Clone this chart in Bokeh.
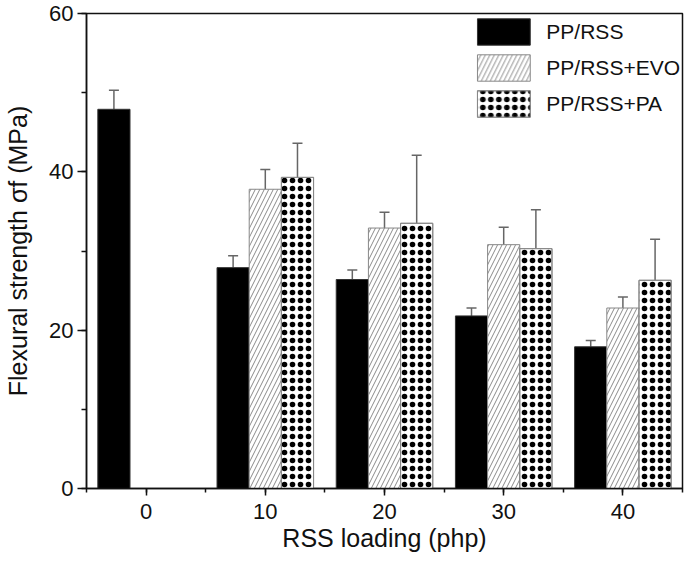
from bokeh.plotting import figure
from bokeh.models import (ColumnDataSource, Whisker, Legend, LegendItem,
                          SingleIntervalTicker, TeeHead, Range1d)
from bokeh.transform import dodge
from bokeh.embed import file_html
from bokeh.resources import INLINE

# ---- data ----
loading = [0, 10, 20, 30, 40]
pp_rss = [47.9, 27.9, 26.4, 21.8, 17.9]
pp_rss_err = [2.4, 1.5, 1.2, 1.0, 0.8]

loading_mod = [10, 20, 30, 40]
pp_rss_evo = [37.8, 32.9, 30.8, 22.8]
pp_rss_evo_err = [2.5, 2.0, 2.2, 1.4]
pp_rss_pa = [39.3, 33.5, 30.3, 26.3]
pp_rss_pa_err = [4.3, 8.6, 4.9, 5.2]

series_names = ["PP/RSS", "PP/RSS+EVO", "PP/RSS+PA"]

FONT = "Liberation Sans"
BAR_W = 2.7
OFF = 2.7

p = figure(width=684, height=563, output_backend="svg", toolbar_location=None,
           x_range=Range1d(-5, 45), y_range=Range1d(0, 60),
           min_border_left=86, min_border_right=2, min_border_top=13,
           min_border_bottom=75)
p.background_fill_color = "white"
p.border_fill_color = "white"
p.outline_line_color = "#111111"
p.outline_line_width = 1.5
p.xgrid.visible = False
p.ygrid.visible = False

src_a = ColumnDataSource(dict(x=loading, y=pp_rss,
                              upper=[v + e for v, e in zip(pp_rss, pp_rss_err)],
                              lower=pp_rss))
src_b = ColumnDataSource(dict(x=loading_mod, y=pp_rss_evo,
                              upper=[v + e for v, e in zip(pp_rss_evo, pp_rss_evo_err)],
                              lower=[v - e for v, e in zip(pp_rss_evo, pp_rss_evo_err)]))
src_c = ColumnDataSource(dict(x=loading_mod, y=pp_rss_pa,
                              upper=[v + e for v, e in zip(pp_rss_pa, pp_rss_pa_err)],
                              lower=[v - e for v, e in zip(pp_rss_pa, pp_rss_pa_err)]))

r_a = p.vbar(x=dodge("x", -OFF, range=p.x_range), top="y", width=BAR_W, source=src_a,
             fill_color="black", line_color="#333333", line_width=1)
r_b = p.vbar(x=dodge("x", 0, range=p.x_range), top="y", width=BAR_W, source=src_b,
             fill_color="white", line_color="#888888", line_width=1,
             hatch_pattern="/", hatch_color="#8a8a8a", hatch_scale=9, hatch_weight=1)
# dotted bars: ring pattern + dot pattern on the same grid give solid black dots
r_c = p.vbar(x=dodge("x", OFF, range=p.x_range), top="y", width=BAR_W, source=src_c,
             fill_color="white", line_color="#888888", line_width=1,
             hatch_pattern="o", hatch_color="black", hatch_scale=8, hatch_weight=1.6)
r_c2 = p.vbar(x=dodge("x", OFF, range=p.x_range), top="y", width=BAR_W, source=src_c,
              fill_alpha=0, line_color="#888888", line_width=1,
              hatch_pattern=".", hatch_color="black", hatch_scale=8)

ERR_COL = "#666666"
for src, off, lower_cap in [(src_a, -OFF, False), (src_b, 0, True), (src_c, OFF, True)]:
    w = Whisker(base=dodge("x", off, range=p.x_range), upper="upper", lower="lower",
                source=src, line_color=ERR_COL, line_width=1.5,
                upper_head=TeeHead(size=10, line_color=ERR_COL, line_width=1.5),
                lower_head=TeeHead(size=10, line_color=ERR_COL, line_width=1.5) if lower_cap else None)
    p.add_layout(w)

# axes
p.xaxis.ticker = SingleIntervalTicker(interval=10, num_minor_ticks=2)
p.yaxis.ticker = SingleIntervalTicker(interval=20, num_minor_ticks=2)
p.xaxis.axis_label = "RSS loading (php)"
p.yaxis.axis_label = "Flexural strength σf (MPa)"
for ax in (p.xaxis[0], p.yaxis[0]):
    ax.axis_line_color = "#111111"
    ax.axis_line_width = 1.5
    ax.major_tick_line_color = "#111111"
    ax.minor_tick_line_color = "#111111"
    ax.major_tick_line_width = 1.5
    ax.minor_tick_line_width = 1.5
    ax.major_tick_in = 0
    ax.minor_tick_in = 0
    ax.major_label_text_font = FONT
    ax.major_label_text_font_size = "22px"
    ax.major_label_text_color = "#111111"
    ax.axis_label_text_font = FONT
    ax.axis_label_text_font_size = "25px"
    ax.axis_label_text_font_style = "normal"
    ax.axis_label_text_color = "#111111"
p.xaxis.major_tick_out = 7
p.xaxis.minor_tick_out = 4
p.xaxis.major_label_standoff = 8
p.xaxis.axis_label_standoff = 2
p.yaxis.major_tick_out = 9
p.yaxis.minor_tick_out = 5
p.yaxis.major_label_standoff = 4
p.yaxis.axis_label_standoff = 14

legend = Legend(items=[LegendItem(label=series_names[0], renderers=[r_a]),
                       LegendItem(label=series_names[1], renderers=[r_b]),
                       LegendItem(label=series_names[2], renderers=[r_c, r_c2])],
                location="top_right", margin=0, padding=2, spacing=3,
                glyph_width=66, glyph_height=33, label_standoff=10,
                label_text_font=FONT, label_text_font_size="21px",
                label_text_color="#111111",
                border_line_alpha=0, background_fill_alpha=0)
p.add_layout(legend)

open("out.html", "w").write(file_html(p, INLINE))
